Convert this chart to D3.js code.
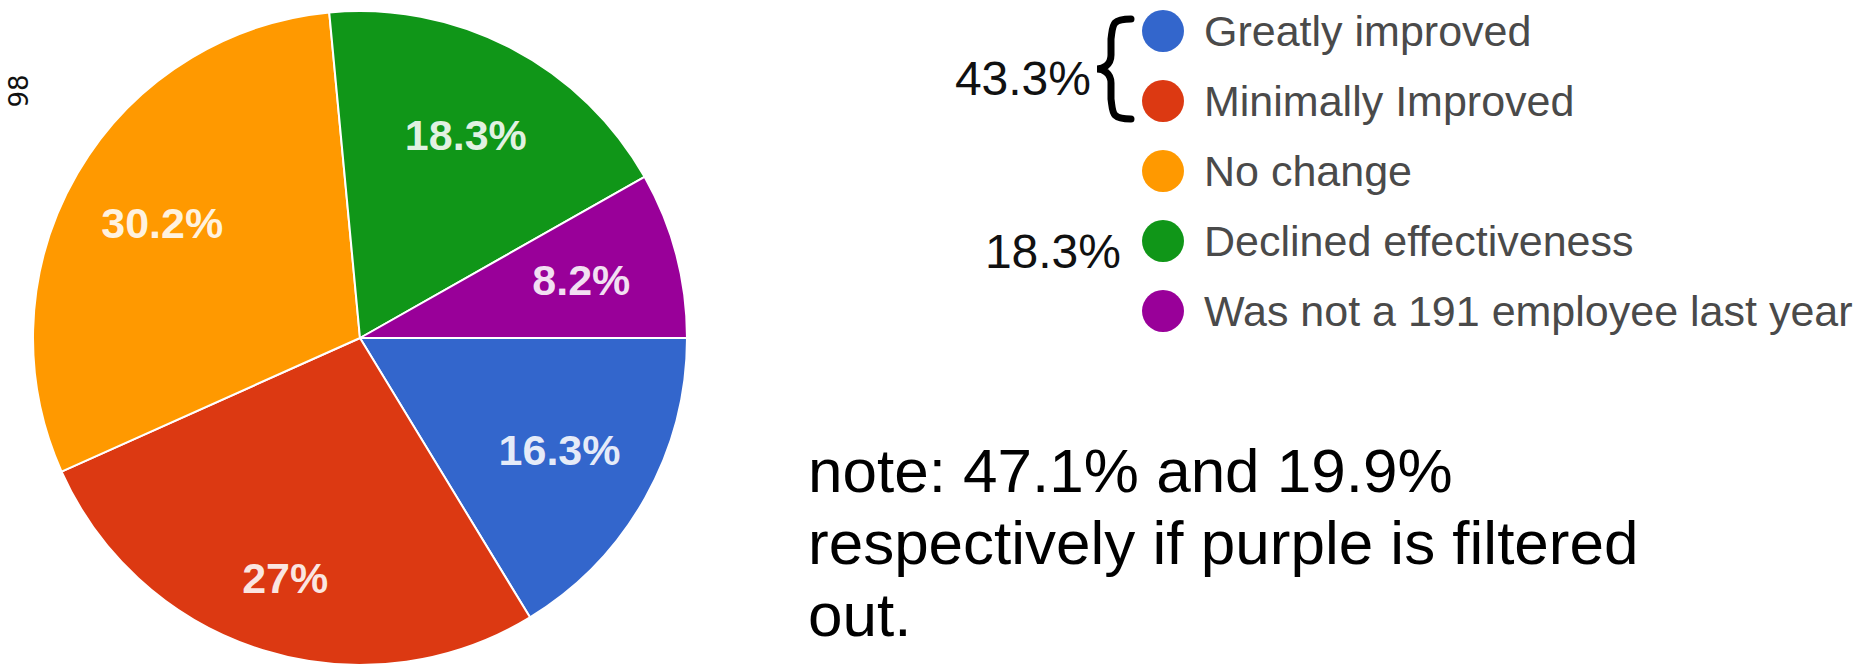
<!DOCTYPE html>
<html>
<head>
<meta charset="utf-8">
<script src="https://cdn.jsdelivr.net/npm/d3@7"></script>
<style>
  html, body { margin: 0; padding: 0; background: #ffffff; }
  svg { display: block; }
</style>
</head>
<body>
<svg id="chart" width="1864" height="666"></svg>
<script>
// Survey answers and their shares (percent)
const categories = [
  "Greatly improved",
  "Minimally Improved",
  "No change",
  "Declined effectiveness",
  "Was not a 191 employee last year"
];
const shares = [16.3, 27, 30.2, 18.3, 8.2];
const sliceLabels = ["16.3%", "27%", "30.2%", "18.3%", "8.2%"];
const colors = ["#3366cc", "#dc3912", "#ff9900", "#109618", "#990099"];

// Group totals shown beside the legend
const groupLabels = ["43.3%", "18.3%"];
const noteLines = [
  "note: 47.1% and 19.9%",
  "respectively if purple is filtered",
  "out."
];
const countLabel = "98";

const svg = d3.select("#chart");

// ---- Pie ----
const cx = 360, cy = 338, R = 327;
const pie = d3.pie()
  .sort(null)
  .value(d => d.value)
  .startAngle(Math.PI / 2)
  .endAngle(Math.PI / 2 + 2 * Math.PI);

const data = categories.map((c, i) => ({ name: c, value: shares[i], label: sliceLabels[i], color: colors[i] }));
const arcs = pie(data);

const arc = d3.arc().innerRadius(0).outerRadius(R);
const g = svg.append("g").attr("transform", `translate(${cx},${cy})`);

g.selectAll("path.slice")
  .data(arcs)
  .enter().append("path")
  .attr("class", "slice")
  .attr("d", arc)
  .attr("fill", d => d.data.color)
  .attr("stroke", "#ffffff")
  .attr("stroke-width", 2)
  .attr("stroke-linejoin", "round");

// Slice labels sit along each slice's mid-angle; the wide bottom slice
// takes its label a little further out.
const labelRadius = { "Minimally Improved": 0.77 };
g.selectAll("text.slice-label")
  .data(arcs)
  .enter().append("text")
  .attr("class", "slice-label")
  .attr("transform", d => {
    const a = (d.startAngle + d.endAngle) / 2;
    const r = R * (labelRadius[d.data.name] || 0.70);
    const x = Math.sin(a) * r;
    const y = -Math.cos(a) * r;
    return `translate(${x},${y})`;
  })
  .attr("text-anchor", "middle")
  .attr("dominant-baseline", "central")
  .attr("font-family", "'Liberation Sans', Arial, sans-serif")
  .attr("font-weight", "bold")
  .attr("font-size", 43)
  .attr("fill", "#ffffff")
  .attr("fill-opacity", 0.88)
  .text(d => d.data.label);

// Rotated count at the far left
svg.append("text")
  .attr("transform", "translate(19,91) rotate(-90)")
  .attr("text-anchor", "middle")
  .attr("dominant-baseline", "central")
  .attr("font-family", "'DejaVu Sans', sans-serif")
  .attr("font-size", 26)
  .attr("fill", "#111")
  .text(countLabel);

// ---- Legend ----
const legendY = d3.scalePoint()
  .domain(categories)
  .range([31, 311]);
const dotX = 1163, textX = 1204;

const lg = svg.append("g");
lg.selectAll("circle")
  .data(data)
  .enter().append("circle")
  .attr("cx", dotX)
  .attr("cy", d => legendY(d.name))
  .attr("r", 21)
  .attr("fill", d => d.color);

lg.selectAll("text")
  .data(data)
  .enter().append("text")
  .attr("x", textX)
  .attr("y", d => legendY(d.name))
  .attr("dominant-baseline", "central")
  .attr("font-family", "'Liberation Sans', Arial, sans-serif")
  .attr("font-size", 43)
  .attr("fill", "#4a4a4a")
  .text(d => d.name);

// Brace grouping the two "improved" answers
const yTop = legendY(categories[0]) - 12;
const yBot = legendY(categories[1]) + 18;
const yMid = (yTop + yBot) / 2;
const bx = 1131, bIn = 1111, bTip = 1097;
svg.append("path")
  .attr("d",
    `M${bx},${yTop} C${bIn},${yTop} ${bIn + 2},${yTop + 6} ${bIn},${yTop + 20}` +
    ` L${bIn},${yMid - 14} C${bIn},${yMid - 4} ${bTip + 6},${yMid} ${bTip},${yMid}` +
    ` C${bTip + 6},${yMid} ${bIn},${yMid + 4} ${bIn},${yMid + 14}` +
    ` L${bIn},${yBot - 20} C${bIn + 2},${yBot - 6} ${bIn},${yBot} ${bx},${yBot}`)
  .attr("fill", "none")
  .attr("stroke", "#000")
  .attr("stroke-width", 7)
  .attr("stroke-linecap", "round");

svg.append("text")
  .attr("x", 1091)
  .attr("y", yMid + 26)
  .attr("text-anchor", "end")
  .attr("font-family", "'Liberation Sans', Arial, sans-serif")
  .attr("font-size", 48)
  .attr("fill", "#111")
  .text(groupLabels[0]);

svg.append("text")
  .attr("x", 1121)
  .attr("y", legendY(categories[3]) + 27)
  .attr("text-anchor", "end")
  .attr("font-family", "'Liberation Sans', Arial, sans-serif")
  .attr("font-size", 48)
  .attr("fill", "#111")
  .text(groupLabels[1]);

// ---- Note ----
svg.append("g")
  .selectAll("text")
  .data(noteLines)
  .enter().append("text")
  .attr("x", 808)
  .attr("y", (d, i) => 492 + i * 72)
  .attr("font-family", "'Liberation Sans', Arial, sans-serif")
  .attr("font-size", 62)
  .attr("fill", "#000")
  .text(d => d);
</script>
</body>
</html>
